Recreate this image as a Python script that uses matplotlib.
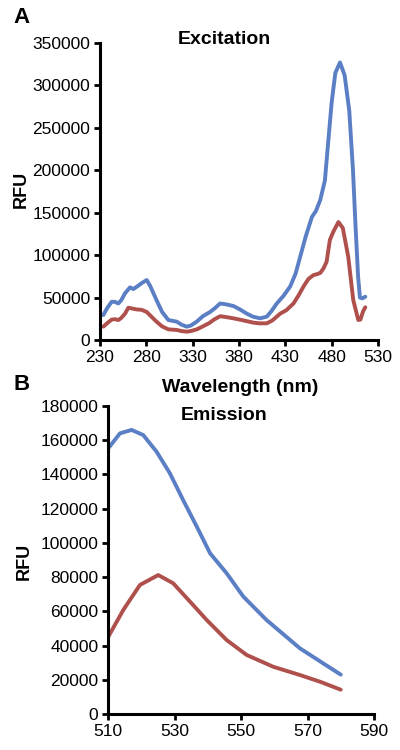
import matplotlib
matplotlib.use("Agg")
import matplotlib.pyplot as plt

plt.rcParams['font.family'] = ['Liberation Sans', 'DejaVu Sans']

# Excitation data
ex_blue_x = [233.6, 238, 242.6, 246, 249.8, 253, 257, 262.4, 266, 270, 275, 280.4, 284, 291, 297, 303.8, 312.8, 318, 323.6, 328, 334.4, 341, 348.8, 354, 359.6, 366, 374, 381, 388.5, 395, 402.8, 410, 415, 420.8, 428, 435.2, 441, 446, 452, 458.7, 463, 467.7, 472.7, 476, 480, 484, 489, 494, 499, 503, 505.5, 508.5, 510.5, 513, 516.3]
ex_blue_y = [29400, 38000, 45000, 45000, 43000, 47000, 55000, 62000, 60000, 63000, 67000, 70600, 64000, 47000, 33000, 23500, 21600, 18000, 15700, 17000, 21600, 28000, 33000, 37500, 43000, 42000, 40000, 36000, 31000, 27500, 25500, 27500, 34000, 43000, 52000, 63000, 78000, 98000, 122000, 145000, 152000, 165000, 188000, 230000, 280000, 315000, 327000, 312000, 270000, 200000, 140000, 75000, 50000, 49000, 51000]
ex_red_x = [233.6, 238, 242.6, 246, 249.8, 253, 257, 260.6, 265, 269.6, 275, 280.4, 285, 291, 297, 303.8, 312.8, 318, 323.6, 328, 334.4, 341, 348, 353, 359.6, 366, 374, 383, 395.6, 402, 410, 416, 424.4, 431, 438.8, 444, 449.6, 455, 460.4, 464, 467.7, 471, 474.5, 478.1, 482, 487.3, 492, 497.9, 503.3, 508.7, 511, 514, 516.3]
ex_red_y = [15700, 20000, 24000, 24500, 23500, 26000, 31000, 38000, 37000, 36000, 35500, 33000, 28000, 21600, 16000, 12500, 11800, 10500, 9800, 10500, 12500, 16000, 20000, 24000, 28000, 27000, 25500, 23500, 20400, 19600, 19600, 23000, 31000, 35000, 43000, 52000, 63000, 72000, 76500, 77500, 79000, 84000, 92000, 118000, 128000, 139000, 132000, 98000, 47000, 23600, 24000, 34000, 38500]

# Emission data
em_blue_x = [510.1, 513.6, 517.1, 520.6, 524.6, 528.6, 532.6, 536.7, 540.7, 545.7, 550.7, 557.7, 567.7, 574, 580]
em_blue_y = [155300, 164000, 166000, 163000, 153300, 140700, 125000, 109500, 93900, 82200, 68600, 54900, 38400, 30500, 23000]
em_red_x = [510.1, 514.6, 519.6, 525.1, 529.6, 534.7, 539.7, 545.7, 551.7, 559.7, 567.7, 574, 580]
em_red_y = [45200, 60800, 75400, 81200, 76400, 65600, 54900, 43200, 34500, 27600, 22800, 18700, 14200]

ex_xticks = [230, 280, 330, 380, 430, 480, 530]
ex_yticks = [0, 50000, 100000, 150000, 200000, 250000, 300000, 350000]
em_xticks = [510, 530, 550, 570, 590]
em_yticks = [0, 20000, 40000, 60000, 80000, 100000, 120000, 140000, 160000, 180000]

BLUE = '#5B7FC4'
RED = '#B0504C'
LW = 2.8

fig = plt.figure(figsize=(4, 7.5), dpi=100)
ax1 = fig.add_axes([0.25, 0.5467, 0.695, 0.396])
ax2 = fig.add_axes([0.27, 0.048, 0.665, 0.4107])

def style(ax):
    for s in ['top', 'right']:
        ax.spines[s].set_visible(False)
    for s in ['left', 'bottom']:
        ax.spines[s].set_linewidth(2.2)
    ax.tick_params(direction='out', length=4, width=2, labelsize=12.5, pad=3)

ax1.plot(ex_blue_x, ex_blue_y, color=BLUE, lw=LW, solid_joinstyle='round', solid_capstyle='round')
ax1.plot(ex_red_x, ex_red_y, color=RED, lw=LW, solid_joinstyle='round', solid_capstyle='round')
ax1.set_xlim(230, 530)
ax1.set_ylim(0, 350000)
ax1.set_xticks(ex_xticks)
ax1.set_yticks(ex_yticks)
style(ax1)

ax2.plot(em_blue_x, em_blue_y, color=BLUE, lw=LW, solid_joinstyle='round', solid_capstyle='round')
ax2.plot(em_red_x, em_red_y, color=RED, lw=LW, solid_joinstyle='round', solid_capstyle='round')
ax2.set_xlim(510, 590)
ax2.set_ylim(0, 180000)
ax2.set_xticks(em_xticks)
ax2.set_yticks(em_yticks)
style(ax2)

def ft(x, y, s, **kw):
    fig.text(x / 400, 1 - y / 750, s, ha='center', va='center', fontweight='bold', **kw)

ft(21, 189, 'RFU', fontsize=13, rotation=90)
ft(24, 561, 'RFU', fontsize=13, rotation=90)
ft(224, 39.5, 'Excitation', fontsize=14)
ft(240, 388, 'Wavelength (nm)', fontsize=14)
ft(224.5, 415, 'Emission', fontsize=14)
ft(21, 17.5, 'A', fontsize=16)
ft(22, 385, 'B', fontsize=16)

fig.savefig('out.png', dpi=100)
